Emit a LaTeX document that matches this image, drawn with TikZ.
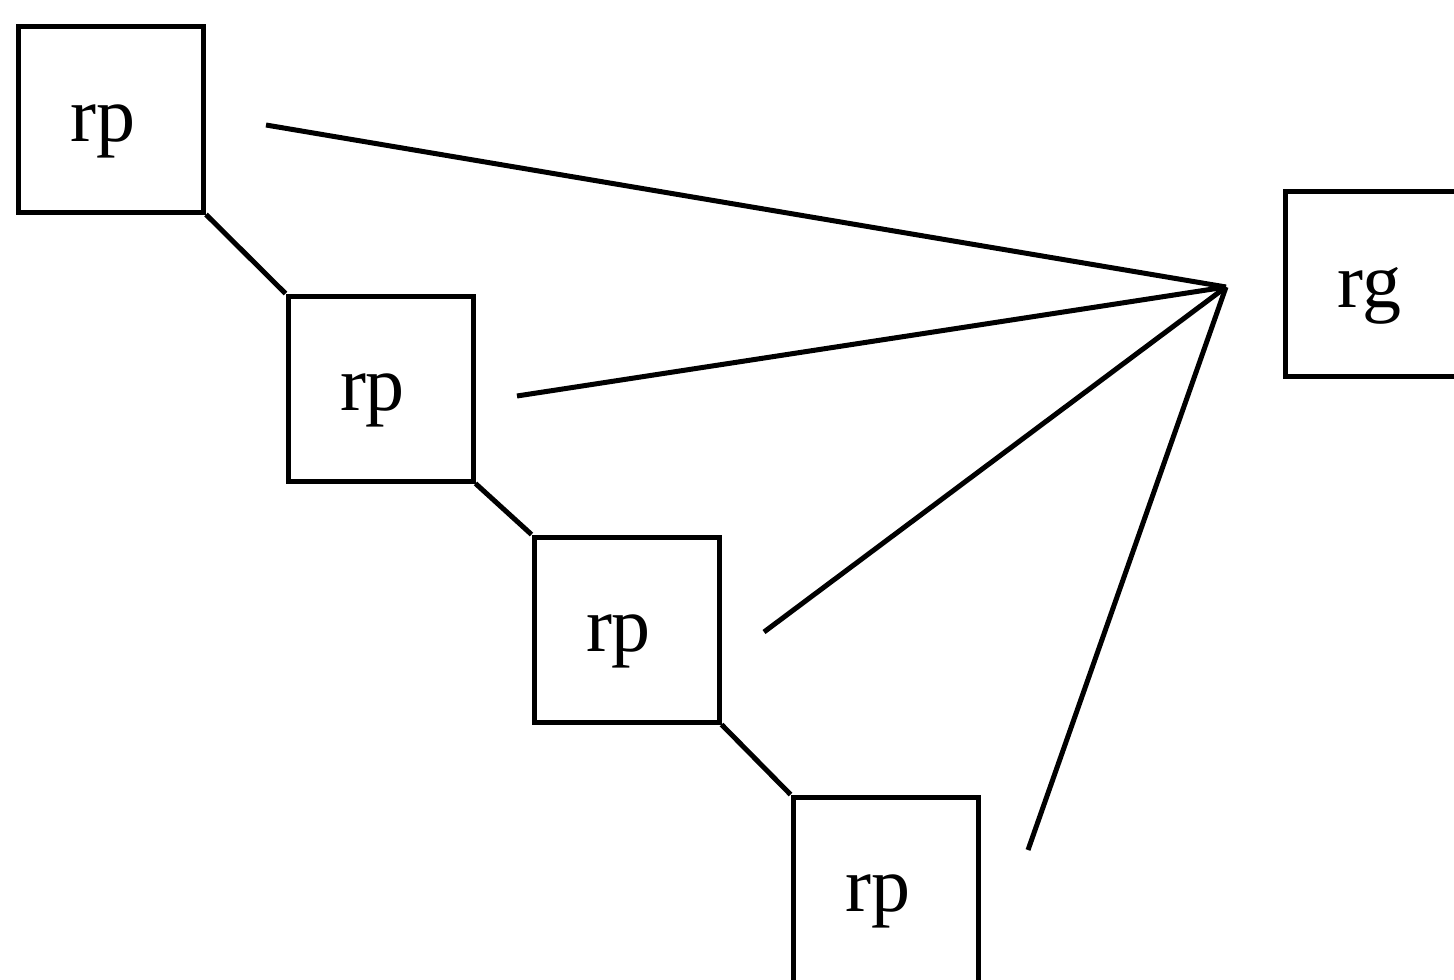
\documentclass[tikz,border=0pt]{standalone}
\usepackage{fontspec}
\setmainfont{Liberation Serif}
% label text sits a little left of and below each block's centre
\newcommand{\blocktext}[1]{\hspace*{-8pt}\raisebox{-6pt}[\height][\depth]{#1}}
\begin{document}
\begin{tikzpicture}[x=0.5pt,y=-0.5pt,
  box/.style={draw, line width=2.5pt, minimum width=92.5pt, minimum height=92.5pt,
    inner sep=0pt, font=\fontsize{39}{41}\selectfont},
  link/.style={line width=2.5pt}]
\useasboundingbox (0,0) rectangle (1454,979);
% blocks
\node[box] (p1) at (111,119.5) {\blocktext{rp}};
\node[box] (p2) at (380.5,388.5) {\blocktext{rp}};
\node[box] (p3) at (626.5,629.5) {\blocktext{rp}};
\node[box] (p4) at (885.5,889.5) {\blocktext{rp}};
\node[box] (g)  at (1377.5,283.5) {\blocktext{rg}};
% chain between the rp blocks
\draw[link] (p1.south east) -- (p2.north west);
\draw[link] (p2.south east) -- (p3.north west);
\draw[link] (p3.south east) -- (p4.north west);
% fan of lines meeting left of rg
\coordinate (hub) at (1226,287);
\coordinate (e1) at (266,125);
\coordinate (e2) at (517,396);
\coordinate (e3) at (764,632);
\coordinate (e4) at (1028,850);
\draw[link] (e1) -- (hub);
\draw[link] (e2) -- (hub);
\draw[link] (e3) -- (hub);
\draw[link] (e4) -- (hub);
\end{tikzpicture}
\end{document}
